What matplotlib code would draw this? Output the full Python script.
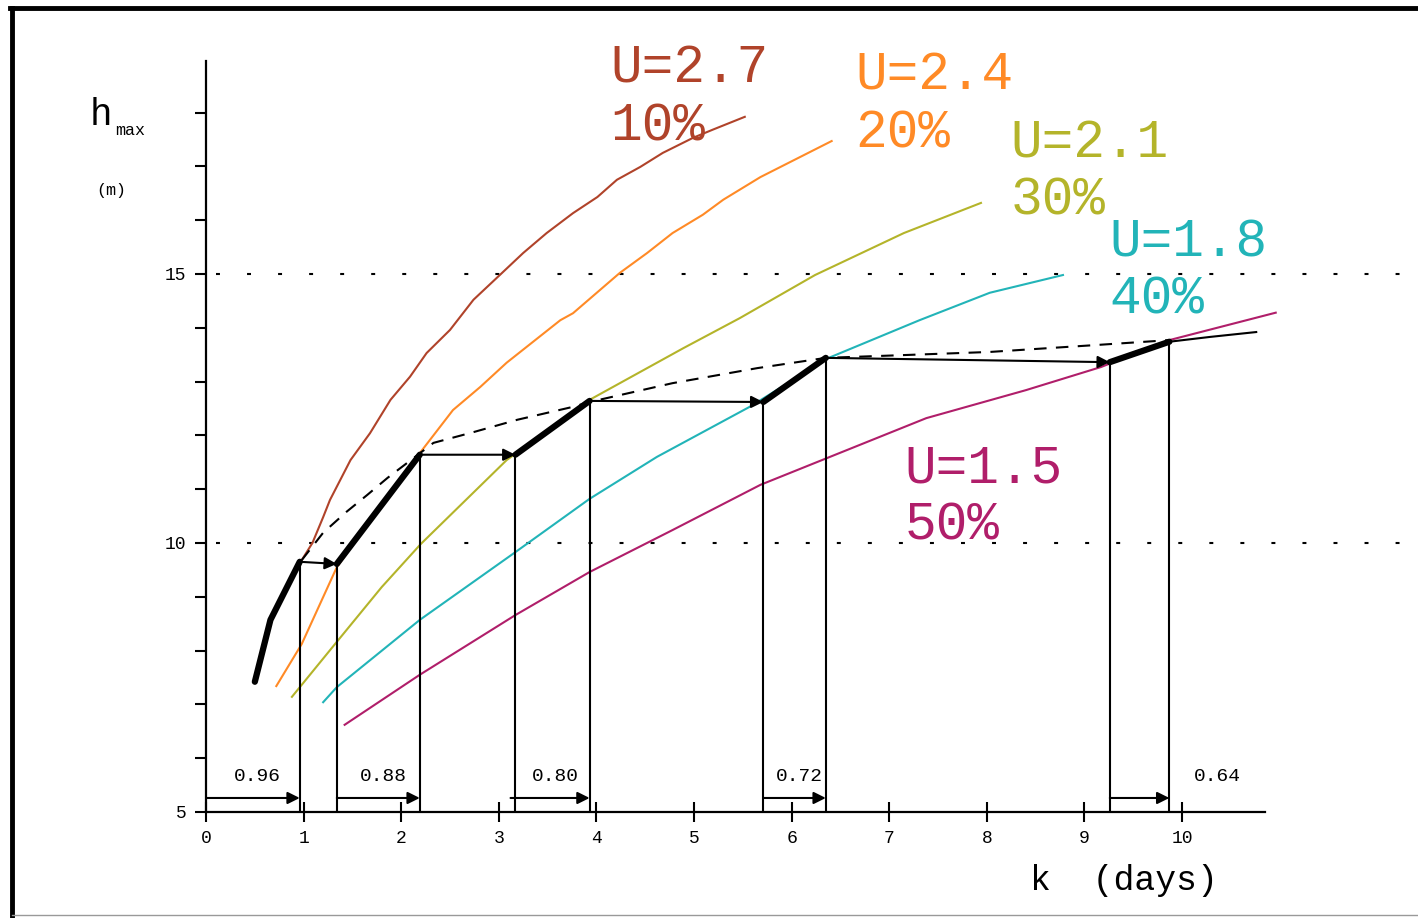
import matplotlib.pyplot as plt
from matplotlib.lines import Line2D

plt.rcParams['font.family'] = ['Liberation Mono', 'DejaVu Sans']

# curves h_max(k) for each U
k_27 = [0.98, 1.09, 1.20, 1.27, 1.48, 1.68, 1.89, 2.09, 2.26, 2.50, 2.74, 3.01, 3.25, 3.49, 3.76, 4.01, 4.21, 4.45, 4.68, 4.99, 5.19, 5.52]
h_27 = [9.68, 10.0, 10.48, 10.80, 11.54, 12.04, 12.66, 13.09, 13.53, 13.96, 14.52, 14.98, 15.39, 15.76, 16.13, 16.43, 16.75, 16.99, 17.25, 17.53, 17.68, 17.92]

k_24 = [0.72, 0.98, 1.34, 1.61, 1.92, 2.19, 2.53, 2.81, 3.08, 3.63, 3.76, 4.24, 4.52, 4.78, 5.09, 5.30, 5.68, 6.41]
h_24 = [7.34, 8.12, 9.55, 10.24, 10.98, 11.67, 12.47, 12.90, 13.35, 14.14, 14.27, 15.02, 15.39, 15.76, 16.10, 16.38, 16.80, 17.47]

k_21 = [0.88, 1.33, 1.80, 2.20, 3.08, 3.93, 4.89, 5.47, 6.24, 7.15, 7.94]
h_21 = [7.14, 8.14, 9.18, 9.98, 11.54, 12.66, 13.62, 14.18, 14.98, 15.76, 16.32]

k_18 = [1.20, 1.34, 2.19, 3.17, 3.93, 4.62, 5.57, 6.38, 7.31, 8.03, 8.78]
h_18 = [7.04, 7.32, 8.57, 9.83, 10.82, 11.60, 12.53, 13.44, 14.14, 14.65, 14.98]

k_15 = [1.42, 2.19, 3.17, 3.93, 4.78, 5.68, 7.38, 8.40, 9.17, 9.87, 10.96]
h_15 = [6.62, 7.55, 8.66, 9.46, 10.24, 11.08, 12.32, 12.84, 13.27, 13.77, 14.28]

curve_labels = [('U=2.7', '10%'), ('U=2.4', '20%'), ('U=2.1', '30%'), ('U=1.8', '40%'), ('U=1.5', '50%')]
colors = ['#b0432a', '#ff8a26', '#b4b42a', '#22b4b8', '#b01e6a']

# dashed envelope
k_env = [0.98, 1.20, 1.44, 1.65, 1.86, 2.33, 2.74, 3.19, 3.76, 3.93, 4.78, 5.65, 6.35, 7.12, 8.03, 9.13, 9.87]
h_env = [9.68, 10.19, 10.58, 10.89, 11.21, 11.86, 12.06, 12.29, 12.53, 12.62, 12.97, 13.25, 13.44, 13.49, 13.55, 13.68, 13.77]

# stepping path (thick rises, horizontal arrows)
k_start = [0.50, 0.66, 0.96]
h_start = [7.42, 8.57, 9.65]
k_step = [0.96, 1.34, 2.19, 3.17, 3.93, 5.71, 6.35, 9.26, 9.87]
h_step = [9.65, 9.61, 11.64, 11.64, 12.64, 12.62, 13.44, 13.36, 13.74]
k_tail = [9.87, 10.29, 10.76]
h_tail = [13.74, 13.83, 13.92]

# bottom arrows with their durations
dur_from = [0.0, 1.34, 3.12, 5.71, 9.26]
dur_to = [0.96, 2.19, 3.93, 6.35, 9.87]
dur_labels = ['0.96', '0.88', '0.80', '0.72', '0.64']

fig = plt.figure(figsize=(14.18, 9.18), dpi=100)
ax = fig.add_axes([0.1453, 0.1155, 0.7468, 0.8176])
ax.set_xlim(0, 10.85)
ax.set_ylim(5, 18.95)

for s in ['top', 'right']:
    ax.spines[s].set_visible(False)
for s in ['left', 'bottom']:
    ax.spines[s].set_linewidth(1.6)

ax.set_xticks(range(0, 11))
ax.set_yticks(range(5, 19))
ax.set_yticklabels([str(v) if v % 5 == 0 else '' for v in range(5, 19)])
ax.tick_params(axis='x', direction='inout', length=14, width=1.5, labelsize=13, pad=6)
ax.tick_params(axis='y', direction='out', length=8, width=1.5, labelsize=13, pad=6)

# dotted reference lines running out to the image edge
for yv in [10, 15]:
    ax.plot([0.1, 12.5], [yv, yv], color='k', lw=1.5, linestyle=(0, (1.9, 13)), clip_on=False)

curves = [(k_27, h_27), (k_24, h_24), (k_21, h_21), (k_18, h_18), (k_15, h_15)]
for (kk, hh), c in zip(curves, colors):
    ax.plot(kk, hh, color=c, lw=1.5, clip_on=False)

ax.plot(k_env, h_env, color='k', lw=1.5, linestyle=(0, (6, 4.5)))

# vertical drop lines
for kv, hv in zip(k_step, h_step):
    ax.plot([kv, kv], [5, hv], color='k', lw=1.5)

# thick path
ax.plot(k_start, h_start, color='k', lw=4.5, solid_capstyle='round')
for i in range(1, len(k_step) - 1, 2):
    ax.plot(k_step[i:i + 2], h_step[i:i + 2], color='k', lw=4.5, solid_capstyle='round')
ax.plot(k_tail, h_tail, color='k', lw=1.5)

arrow = dict(arrowstyle='-|>', color='k', lw=1.5, mutation_scale=18, shrinkA=0, shrinkB=0)
for i in range(0, len(k_step) - 1, 2):
    ax.annotate('', xy=(k_step[i + 1], h_step[i + 1]), xytext=(k_step[i], h_step[i]), arrowprops=arrow)

for a, b, lab in zip(dur_from, dur_to, dur_labels):
    ax.annotate('', xy=(b, 5.26), xytext=(a, 5.26), arrowprops=arrow)
    xl = 10.36 if a > 9 else (a + b) / 2 + 0.05
    ax.text(xl, 5.65, lab, fontsize=14, ha='center', va='center')

# curve labels
lab_x = [4.14, 6.65, 8.24, 9.26, 7.16]
lab_y = [18.55, 18.42, 17.17, 15.33, 11.13]
for (u, p), c, x, y in zip(curve_labels, colors, lab_x, lab_y):
    ax.text(x, y, u, color=c, fontsize=38, va='baseline', clip_on=False)
    ax.text(x, y - 1.07, p, color=c, fontsize=38, va='baseline', clip_on=False)

ax.text(-1.19, 17.77, 'h', fontsize=27, va='baseline', clip_on=False)
ax.text(-0.93, 17.58, 'max', fontsize=12, va='baseline', clip_on=False)
ax.text(-1.12, 16.56, '(m)', fontsize=12, va='center', clip_on=False)
ax.text(8.44, 3.55, 'k  (days)', fontsize=25, va='baseline', clip_on=False)

# picture frame
fig.add_artist(Line2D([10 / 1418, 1], [1 - 8 / 918, 1 - 8 / 918], color='k', lw=3.5))
fig.add_artist(Line2D([12 / 1418, 12 / 1418], [0, 1 - 8 / 918], color='k', lw=3.5))
fig.add_artist(Line2D([12 / 1418, 1], [3 / 918, 3 / 918], color='#999999', lw=1))

fig.savefig('out.png', dpi=100)
